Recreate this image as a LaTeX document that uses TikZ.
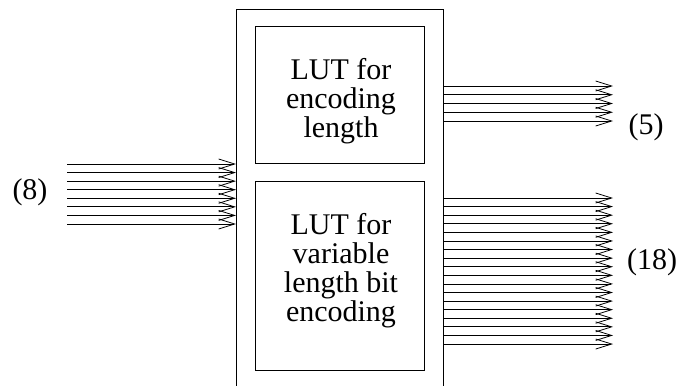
\documentclass[tikz,border=0pt]{standalone}
\usepackage{fontspec}
\setmainfont{Liberation Serif}
\usetikzlibrary{arrows.meta}
\usetikzlibrary{calc}

\tikzset{
	lutbox/.style={draw, line width=1pt, minimum width=169pt, anchor=north west, inner sep=0pt},
	luttext/.style={align=center, inner sep=0pt},
	wire/.style={line width=0.8pt, -{Straight Barb[length=16pt, width=10pt]}},
	buslabel/.style={inner sep=0pt}
}

\begin{document}
\begin{tikzpicture}[x=1pt, y=-1pt, font=\fontsize{30}{29}\selectfont]
	\useasboundingbox (0,0) rectangle (681,386);
	\clip (0,0) rectangle (681,386);

	% outer block, runs off the bottom
	\node[draw, line width=1pt, minimum width=207pt, minimum height=420pt, anchor=north west, inner sep=0pt] (chip) at (236,9) {};

	\node[lutbox, minimum height=137pt] (lutLen) at (255,26) {};
	\node[lutbox, minimum height=189pt] (lutBits) at (255,181) {};
	\node[luttext] (lutLenText) at ($(lutLen.center)+(1,6)$) {LUT for\\encoding\\length};
	\node[luttext] (lutBitsText) at ($(lutBits.center)+(1,-5)$) {LUT for\\variable\\length bit\\encoding};

	% input bus
	\foreach \i in {0,...,7}
		\coordinate (in\i) at (67,{164+\i*8.57});
	\foreach \i in {0,...,7}
		\draw[wire] (in\i) -- (in\i -| chip.west);

	% output buses
	\foreach \i in {0,...,4}
		\coordinate (len\i) at (613,{86+\i*8.75});
	\foreach \i in {0,...,4}
		\draw[wire] (len\i -| chip.east) -- (len\i);
	\foreach \i in {0,...,17}
		\coordinate (bit\i) at (613,{198+\i*8.59});
	\foreach \i in {0,...,17}
		\draw[wire] (bit\i -| chip.east) -- (bit\i);

	\node[buslabel] (inCount) at (30,192) {(8)};
	\node[buslabel] (lenCount) at (646,127) {(5)};
	\node[buslabel] (bitCount) at (652,262) {(18)};
\end{tikzpicture}
\end{document}
